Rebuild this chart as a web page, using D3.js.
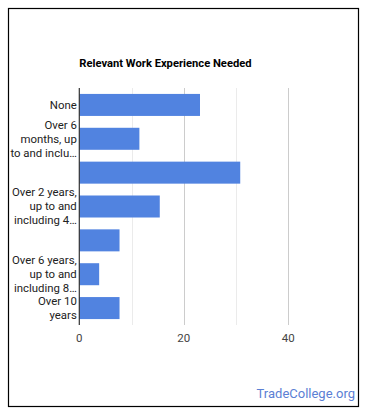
<!DOCTYPE html>
<html>
<head>
<meta charset="utf-8">
<script src="https://cdn.jsdelivr.net/npm/d3@7"></script>
<style>
  body { margin: 0; background: #fff; }
  svg { display: block; font-family: Roboto, Arial, sans-serif; }
</style>
</head>
<body>
<svg id="chart" width="370" height="417"></svg>
<script>
// categories (full names) and the wrapped label lines shown on the axis
var categories = [
  "None",
  "Over 6 months, up to and including 1 year",
  "Over 1 year, up to and including 2 years",
  "Over 2 years, up to and including 4 years",
  "Over 4 years, up to and including 6 years",
  "Over 6 years, up to and including 8 years",
  "Over 10 years"
];
var tickLabels = [
  ["None"],
  ["Over 6", "months, up", "to and inclu\u2026"],
  [],
  ["Over 2 years,", "up to and", "including 4\u2026"],
  [],
  ["Over 6 years,", "up to and", "including 8\u2026"],
  ["Over 10", "years"]
];
var values = [23.1, 11.5, 30.8, 15.4, 7.7, 3.8, 7.7];
var majorTicks = [0, 20, 40];
var minorTicks = [10, 30];

var svg = d3.select("#chart");

// outer frame
svg.append("rect")
  .attr("x", 8.5).attr("y", 8.5)
  .attr("width", 350).attr("height", 398)
  .attr("fill", "none")
  .attr("stroke", "#000")
  .attr("stroke-width", 1.2);

var plotLeft = 79.3, plotTop = 88, plotBottom = 325;

var x = d3.scaleLinear().domain([0, 40]).range([plotLeft, 288.3]);
var y = d3.scaleBand().domain(categories).range([plotTop, plotBottom])
  .paddingInner(0.35).paddingOuter(0.175);

// title
svg.append("text")
  .attr("x", plotLeft).attr("y", 67)
  .attr("font-size", 11.2).attr("font-weight", "bold")
  .attr("fill", "#000")
  .text("Relevant Work Experience Needed");

// gridlines
svg.append("g").selectAll("line").data(minorTicks).join("line")
  .attr("x1", d => Math.round(x(d)) + 0.5).attr("x2", d => Math.round(x(d)) + 0.5)
  .attr("y1", plotTop).attr("y2", plotBottom)
  .attr("stroke", "#ebebeb");
svg.append("g").selectAll("line").data(majorTicks.filter(d => d > 0)).join("line")
  .attr("x1", d => Math.round(x(d)) + 0.5).attr("x2", d => Math.round(x(d)) + 0.5)
  .attr("y1", plotTop).attr("y2", plotBottom)
  .attr("stroke", "#cccccc");

// bars
svg.append("g").selectAll("rect").data(values).join("rect")
  .attr("x", x(0))
  .attr("y", (d, i) => y(categories[i]))
  .attr("width", d => x(d) - x(0))
  .attr("height", y.bandwidth())
  .attr("fill", "#5183e0");

// baseline
svg.append("line")
  .attr("x1", plotLeft).attr("x2", plotLeft)
  .attr("y1", plotTop).attr("y2", plotBottom)
  .attr("stroke", "#333").attr("stroke-width", 1.2);

// category labels
var lab = svg.append("g").attr("font-size", 11.4).attr("fill", "#222")
  .attr("text-anchor", "end");
tickLabels.forEach(function (lines, i) {
  var cy = y(categories[i]) + y.bandwidth() / 2;
  var lh = 14;
  var start = cy - (lines.length - 1) * lh / 2;
  lines.forEach(function (t, j) {
    lab.append("text")
      .attr("x", plotLeft - 2.5)
      .attr("y", start + j * lh)
      .attr("dy", "0.35em")
      .text(t);
  });
});

// x tick labels
svg.append("g").selectAll("text").data(majorTicks).join("text")
  .attr("x", d => x(d)).attr("y", 342)
  .attr("text-anchor", "middle")
  .attr("font-size", 11.5).attr("fill", "#444")
  .text(d => d);

// watermark
svg.append("text")
  .attr("x", 355).attr("y", 398)
  .attr("text-anchor", "end")
  .attr("font-size", 13).attr("fill", "#5b80d4")
  .text("TradeCollege.org");
</script>
</body>
</html>
